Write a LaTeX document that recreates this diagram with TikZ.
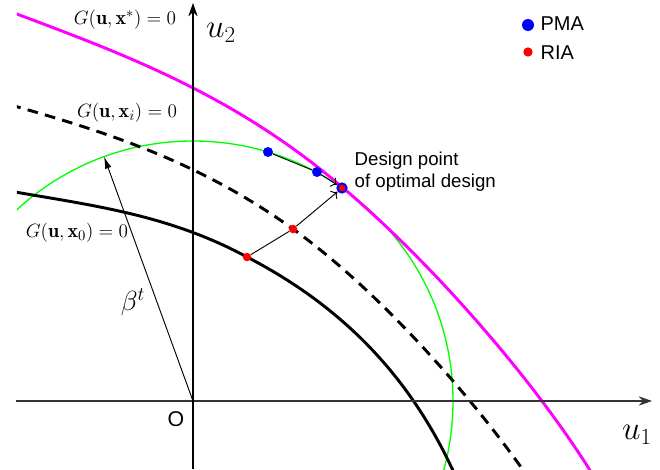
\documentclass[tikz,border=0pt]{standalone}
\usepackage{amsmath}
\usepackage{fontspec}
\setsansfont{Liberation Sans}
\usepackage{tikz}
\usetikzlibrary{arrows.meta}
\usetikzlibrary{positioning}

\definecolor{limitmagenta}{RGB}{255,0,255}
\definecolor{circlegreen}{RGB}{0,255,0}

\tikzset{
  limitstate/.style={line width=2.2pt},
  axisline/.style={line width=1pt,-{Stealth[length=10pt,width=7pt]}},
  dot/.style={circle,inner sep=0pt,minimum size=7.5pt},
  pmadot/.style={dot,fill=blue},
  riadot/.style={dot,fill=red,minimum size=6.4pt},
  steparrow/.style={line width=0.7pt},
  stephead/.style={-{To[length=4pt,width=8pt]}},
  gtext/.style={font=\fontsize{15}{17}\selectfont},
  bigmath/.style={font=\fontsize{24}{26}\selectfont},
  sanstext/.style={font=\sffamily\fontsize{14}{16.5}\selectfont,align=left},
}

\begin{document}
\begin{tikzpicture}[x=0.75pt,y=0.75pt]
\useasboundingbox (-193,-68) rectangle (467,401);
% limit state curves and beta circle
\begin{scope}
\clip (-176,-68) rectangle (467,401);
\draw[circlegreen,line width=1pt] (0,0) circle (260);
\draw[limitstate] (-200,213) .. controls (-115,197) and (-31,190) .. (54,144)
  .. controls (166,86) and (231,4) .. (271,-95);
\draw[limitstate,dash pattern=on 8pt off 5.5pt] (-200,301) .. controls (-100,273) and (0,244) .. (100,172)
  .. controls (185,111) and (284,1) .. (348,-95);
\draw[limitmagenta,limitstate] (-200,396) .. controls (-84,352) and (33,313) .. (149,214)
  .. controls (237,140) and (348,15) .. (409,-89);
\end{scope}
% axes
\coordinate (O) at (0,0);
\coordinate (u1start) at (-177,0);
\coordinate (u1end) at (459,0);
\coordinate (u2start) at (0,-68);
\coordinate (u2end) at (0,398);
\draw[axisline,black!80] (u1start) -- (u1end);
\draw[axisline] (u2start) -- (u2end);
\node[bigmath] (u1lab) at (444,-34) {$u_1$};
\node[bigmath] (u2lab) at (28,368) {$u_2$};
\node[font=\sffamily\fontsize{16}{18}\selectfont] (Olab) at (-17,-18) {O};
% reliability index
\coordinate (betatip) at (110:260);
\draw[line width=0.7pt,-{Latex[length=9pt,width=5pt]}] (O) -- (betatip);
\node[font=\fontsize{20}{22}\selectfont] (betalab) at (-60,99) {$\beta^t$};
% labels of the curves
\node[gtext] (gopt) at (-68,381) {$G(\mathbf{u},\mathbf{x}^*)=0$};
\node[gtext] (gi) at (-66,288) {$G(\mathbf{u},\mathbf{x}_i)=0$};
\node[gtext] (g0) at (-116,168) {$G(\mathbf{u},\mathbf{x}_0)=0$};
% iterations
\node[pmadot] (p1) at (75,249) {};
\node[pmadot] (p2) at (124,229) {};
\node[riadot] (r1) at (54,144) {};
\node[riadot] (r2) at (100,172) {};
\node[pmadot,minimum size=8.5pt] (dp) at (149,213) {};
\node[riadot,minimum size=5pt] (dpr) at (dp) {};
\draw[steparrow] (p1) -- (p2);
\draw[steparrow,stephead] (p2) -- (dp);
\draw[steparrow] (r1) -- (r2);
\draw[steparrow,stephead] (r2) -- (dp);
\node[sanstext,anchor=west] (dplab) at (157,229) {Design point\\of optimal design};
% legend
\node[pmadot,minimum size=9pt] (pmakey) at (335,376) {};
\node[riadot,minimum size=7pt] (riakey) at (335,349) {};
\node[sanstext,font=\sffamily\fontsize{15}{17}\selectfont,anchor=west,inner sep=1pt] (pmalab) at (346,377) {PMA};
\node[sanstext,font=\sffamily\fontsize{15}{17}\selectfont,anchor=west,inner sep=1pt] (rialab) at (346,348) {RIA};
\end{tikzpicture}
\end{document}
